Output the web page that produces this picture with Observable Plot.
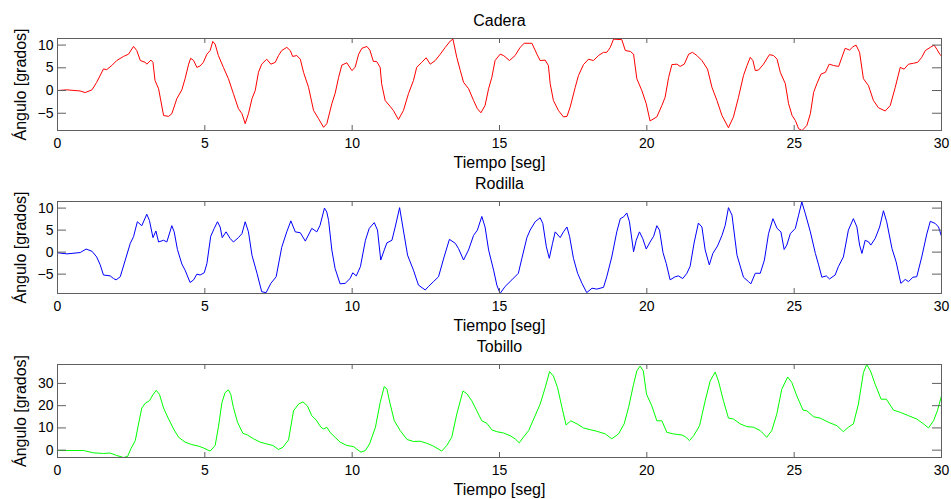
<!DOCTYPE html>
<html>
<head>
<meta charset="utf-8">
<script src="https://cdn.jsdelivr.net/npm/d3@7"></script>
<script src="https://cdn.jsdelivr.net/npm/@observablehq/plot@0.6"></script>
<style>
  body { margin: 0; background: #fff; }
  #chart svg { display: block; }
</style>
</head>
<body>
<div id="chart"></div>
<script>
// ---- Data ----
const xTicks = [0, 5, 10, 15, 20, 25, 30];
const yTicksAngle = [-5, 0, 5, 10];
const yTicksAnkle = [0, 10, 20, 30];
const titles = ["Cadera", "Rodilla", "Tobillo"];
const xLabel = "Tiempo [seg]";
const yLabel = "Ángulo [grados]";

const caderaT = [0,0.32,0.77,0.94,1.17,1.33,1.56,1.67,1.84,2.01,2.24,2.41,2.58,2.69,2.81,2.98,3.03,3.17,3.24,3.31,3.43,3.60,3.77,3.88,4.05,4.22,4.33,4.45,4.52,4.62,4.73,4.84,4.95,5.07,5.18,5.27,5.35,5.46,5.63,5.80,5.97,6.14,6.26,6.37,6.48,6.60,6.71,6.82,6.93,7.10,7.24,7.39,7.50,7.61,7.78,7.90,7.98,8.12,8.24,8.35,8.52,8.69,8.86,9.03,9.14,9.31,9.42,9.54,9.65,9.82,9.99,10.10,10.22,10.33,10.50,10.60,10.72,10.83,10.95,11.00,11.12,11.29,11.40,11.57,11.74,11.91,12.08,12.19,12.36,12.51,12.65,12.82,12.99,13.16,13.33,13.42,13.55,13.67,13.78,13.95,14.12,14.25,14.37,14.51,14.63,14.74,14.85,15.02,15.14,15.34,15.53,15.70,15.84,16.10,16.27,16.38,16.55,16.66,16.72,16.83,17.00,17.17,17.29,17.40,17.57,17.68,17.85,18.02,18.19,18.36,18.53,18.64,18.76,18.87,19.15,19.27,19.44,19.55,19.66,19.83,19.98,20.11,20.34,20.51,20.62,20.74,20.85,21.02,21.13,21.27,21.42,21.55,21.70,21.87,22.06,22.21,22.38,22.55,22.77,22.94,23.11,23.28,23.40,23.51,23.60,23.68,23.79,23.96,24.16,24.30,24.42,24.53,24.70,24.81,24.93,25.04,25.15,25.27,25.43,25.55,25.66,25.77,25.91,26.06,26.19,26.34,26.51,26.62,26.73,26.88,26.99,27.10,27.22,27.35,27.52,27.69,27.86,28.09,28.26,28.43,28.60,28.73,28.88,29.05,29.19,29.33,29.45,29.62,29.75,29.84,29.95,30];
const caderaV = [0,0.15,-0.1,-0.45,0.15,1.8,4.75,4.6,5.5,6.6,7.5,8.0,9.7,8.8,6.6,6.2,5.8,6.7,6.2,2.2,0.4,-5.5,-5.7,-5.1,-1.8,0.15,2.6,5.8,7.1,6.6,5.1,5.4,6.2,8.0,8.8,10.8,10.2,7.7,5.1,2.6,-0.7,-4.0,-5.1,-7.3,-5.1,-1.8,0,4.0,5.8,6.9,5.8,6.2,7.7,8.8,9.5,8.8,7.5,7.7,6.9,4.0,0.7,-4.4,-6.2,-8.1,-7.3,-2.9,-0.7,2.9,5.6,6.1,4.4,5.1,8.0,9.3,9.7,8.9,6.4,6.4,5.1,1.5,-2.2,-3.5,-4.4,-6.4,-4.4,-0.7,2.2,5.1,6.2,7.2,5.8,6.6,8.0,9.5,10.9,11.3,7.3,4.4,1.8,0.4,-2.2,-4.0,-4.9,-3.3,0.4,2.9,6.6,8.0,7.7,6.6,7.7,9.5,10.4,10.4,8.0,6.6,6.7,5.5,1.5,-2.2,-4.4,-5.8,-5.7,-3.6,0.7,3.3,5.7,6.9,6.6,7.7,8.4,8.4,9.5,11.3,11.2,8.8,8.6,8.0,2.6,0,-2.9,-6.7,-5.8,-3.3,-1.5,2.9,5.7,5.8,5.3,5.8,8.0,8.4,7.7,6.6,4.7,0.7,-2.2,-5.5,-8.2,-5.8,-1.5,3.3,5.5,7.3,6.6,4.4,4.5,5.8,7.9,7.7,6.9,4.0,1.5,-2.9,-5.5,-6.6,-8.4,-8.8,-7.7,-5.1,-0.4,1.5,3.6,4.0,5.8,5.5,5.3,7.3,9.3,8.9,9.6,10.0,8.4,2.6,1.1,-2.2,-3.8,-4.5,-3.3,0.7,5.1,4.7,5.8,6.0,6.2,7.3,8.8,9.5,10.0,9.1,7.9,7.6];

const rodillaT = [0,0.32,0.77,0.97,1.17,1.33,1.45,1.56,1.79,1.90,1.99,2.13,2.30,2.47,2.58,2.71,2.86,3.03,3.12,3.24,3.34,3.43,3.60,3.71,3.88,3.96,4.07,4.22,4.33,4.50,4.62,4.73,4.84,4.98,5.07,5.20,5.32,5.43,5.52,5.59,5.72,5.86,5.97,6.14,6.26,6.37,6.48,6.60,6.77,6.93,7.08,7.24,7.42,7.61,7.78,7.92,8.07,8.24,8.41,8.63,8.80,8.91,9.06,9.14,9.20,9.31,9.42,9.59,9.76,9.93,10.02,10.14,10.28,10.45,10.58,10.75,10.86,10.97,11.09,11.18,11.35,11.46,11.61,11.72,11.88,12.08,12.25,12.48,12.59,12.76,12.93,13.12,13.30,13.50,13.61,13.78,13.95,14.12,14.25,14.40,14.51,14.63,14.80,14.91,15.02,15.19,15.42,15.64,15.76,15.93,16.04,16.21,16.38,16.47,16.59,16.69,16.80,16.89,17.06,17.17,17.29,17.38,17.51,17.65,17.80,17.96,18.14,18.30,18.53,18.64,18.81,18.98,19.10,19.21,19.32,19.41,19.55,19.64,19.75,19.86,19.98,20.11,20.23,20.34,20.43,20.55,20.66,20.79,20.96,21.07,21.22,21.36,21.47,21.61,21.75,21.87,21.98,22.12,22.24,22.40,22.55,22.66,22.77,22.89,23.06,23.28,23.45,23.53,23.68,23.85,23.99,24.13,24.28,24.42,24.55,24.66,24.75,24.87,25.04,25.15,25.26,25.38,25.55,25.72,25.83,25.94,26.09,26.20,26.39,26.50,26.67,26.84,27.01,27.13,27.22,27.30,27.41,27.53,27.60,27.75,27.90,28.03,28.14,28.32,28.46,28.62,28.77,28.88,29.03,29.16,29.33,29.50,29.62,29.79,29.90,30];
const rodillaV = [-0.15,-0.4,-0.1,0.7,0.2,-1.1,-2.9,-5.2,-5.4,-6.0,-6.3,-5.6,-1.8,2.0,3.5,6.9,6.0,8.6,7.2,3.3,4.8,2.3,2.7,2.3,6.0,4.6,0.6,-2.7,-4.1,-6.9,-6.3,-5.0,-5.2,-4.7,-2.6,3.6,5.4,6.9,5.7,3.3,4.6,3.1,2.3,3.3,4.2,6.9,4.6,-0.7,-4.8,-9.0,-9.2,-7.1,-5.6,1.1,4.6,7.1,4.6,4.4,2.5,5.4,4.6,6.1,10.0,9.1,7.2,0.5,-3.7,-7.2,-7.1,-6.0,-4.7,-5.4,-3.3,2.7,5.4,6.7,5.0,-1.8,0.5,2.1,2.7,5.7,10.1,5.7,-0.7,-4.1,-7.5,-8.6,-7.8,-6.7,-5.6,-1.1,2.9,2.0,0.8,-1.8,0.5,3.8,5.0,8.1,5.7,0.5,-4.1,-7.5,-9.4,-7.8,-6.3,-4.8,-1.4,3.3,5.0,6.9,7.8,6.5,1.2,-1.4,2.0,4.6,3.3,4.6,5.7,3.5,-1.4,-4.8,-7.1,-9.2,-8.2,-8.4,-8.0,-5.6,-1.1,4.6,7.6,8.0,8.9,6.9,0.1,2.7,4.6,3.1,0.7,2.3,3.6,6.0,5.0,-0.15,-2.6,-6.3,-5.6,-5.4,-6.0,-4.8,-3.2,2.3,6.6,5.7,0.5,-2.9,-0.3,1.4,3.8,6.1,10.1,8.4,-0.7,-5.7,-6.7,-7.2,-4.8,-4.8,-1.8,4.2,7.6,5.4,4.6,0.6,1.6,4.2,5.4,8.4,11.4,8.7,4.6,-0.3,-2.9,-5.7,-5.4,-6.1,-5.2,-3.3,-1.1,5.0,7.6,5.7,1.6,-0.3,2.7,2.3,1.6,3.1,5.7,9.4,6.9,0.8,-2.2,-7.1,-6.2,-6.7,-5.7,-5.6,-1.1,4.1,7.0,6.5,5.7,3.6];

const tobilloT = [0,0.88,1.22,1.56,1.79,2.01,2.24,2.38,2.49,2.64,2.75,2.86,2.98,3.12,3.24,3.35,3.46,3.60,3.77,3.94,4.11,4.33,4.56,4.79,4.95,5.18,5.35,5.46,5.58,5.69,5.80,5.88,5.97,6.11,6.29,6.45,6.65,6.88,7.10,7.31,7.50,7.65,7.84,8.01,8.18,8.33,8.48,8.63,8.78,8.94,9.03,9.14,9.25,9.42,9.59,9.82,10.05,10.14,10.30,10.45,10.59,10.79,10.95,11.09,11.18,11.29,11.43,11.63,11.86,12.08,12.31,12.53,12.76,13.04,13.21,13.38,13.55,13.76,13.89,14.06,14.23,14.40,14.57,14.74,14.91,15.14,15.36,15.53,15.67,15.81,15.99,16.16,16.38,16.55,16.70,16.83,16.97,17.12,17.26,17.42,17.63,17.85,18.08,18.30,18.59,18.81,19.04,19.23,19.38,19.55,19.66,19.77,19.88,19.99,20.17,20.34,20.51,20.68,20.90,21.19,21.30,21.45,21.59,21.79,21.98,22.15,22.32,22.43,22.60,22.77,22.94,23.17,23.39,23.62,23.85,24.07,24.24,24.41,24.58,24.78,24.92,25.09,25.30,25.43,25.66,25.88,26.17,26.45,26.67,26.84,27.01,27.18,27.35,27.46,27.59,27.75,27.95,28.13,28.37,28.60,28.88,29.16,29.39,29.56,29.73,29.86,30];
const tobilloV = [-0.15,-0.15,-1.2,-1.5,-1.3,-2.4,-3.3,-2.8,0.6,4.3,11.8,18.9,21.1,22.2,24.9,26.9,25.1,18.9,14.0,9.5,5.8,3.6,2.5,1.8,1.0,-0.4,2.1,10.3,21.4,25.9,27.1,25.1,19.2,12.5,7.6,6.8,5.1,3.6,2.8,2.1,0.3,1.3,4.6,17.7,20.7,21.7,19.9,15.5,13.5,10.3,9.5,10.3,8.0,5.8,3.6,2.1,1.6,0.6,-0.9,-0.15,2.8,10.3,21.4,28.6,27.4,20.7,13.2,8.8,4.8,3.9,4.0,3.1,1.8,-0.4,2.1,5.8,16.2,26.6,25.4,22.2,17.7,13.2,12.1,9.1,8.3,7.7,6.5,5.1,3.3,5.8,8.8,14.0,20.7,28.1,35.3,33.3,28.1,19.2,11.3,13.2,11.8,10.0,9.2,8.5,7.3,5.1,7.3,11.8,19.2,29.6,35.6,37.8,35.6,25.1,19.9,13.2,13.2,8.0,7.3,6.8,6.1,4.3,6.5,11.0,22.2,31.1,35.1,31.1,22.2,14.4,14.0,11.8,10.6,10.3,8.8,5.8,8.8,16.2,27.4,32.9,30.4,24.4,18.0,17.7,15.0,14.4,12.5,11.0,8.3,10.3,11.8,20.7,34.8,38.5,35.6,29.6,22.9,22.9,18.0,17.0,15.5,14.0,11.8,10.0,13.2,17.7,24.4];

// ---- Drawing ----
const W = 951, ML = 57, MR = 10;
const axisColor = "#5f5f5f";
const font = "'Liberation Sans', Arial, Helvetica, sans-serif";

function panel({t, v, color, title, yDomain, yTicks, height, marginTop, marginBottom}) {
  const data = t.map((d, i) => ({t: d, v: v[i]}));
  const frameH = height - marginTop - marginBottom;
  const frameW = W - ML - MR;
  return Plot.plot({
    width: W, height,
    marginLeft: ML, marginRight: MR, marginTop, marginBottom,
    style: {fontFamily: font, fontSize: "14px", color: "#000", background: "#fff", overflow: "visible"},
    x: {domain: [0, 30]},
    y: {domain: yDomain},
    marks: [
      Plot.line(data, {x: "t", y: "v", stroke: color, strokeWidth: 1}),
      Plot.frame({stroke: axisColor, strokeWidth: 1}),
      Plot.tickX(xTicks, {x: d => d, stroke: axisColor, insetTop: frameH - 5}),
      Plot.tickX(xTicks, {x: d => d, stroke: axisColor, insetBottom: frameH - 5}),
      Plot.tickY(yTicks, {y: d => d, stroke: axisColor, insetRight: frameW - 9}),
      Plot.tickY(yTicks, {y: d => d, stroke: axisColor, insetLeft: frameW - 9}),
      Plot.axisX(xTicks, {tickSize: 0, tickPadding: 8, label: null, fontSize: 14, fill: "#000"}),
      Plot.axisY(yTicks, {tickSize: 0, tickPadding: 4, label: null, fontSize: 14, fill: "#000"}),
      Plot.text([title], {text: d => d, frameAnchor: "top", dy: -18, lineAnchor: "middle", textAnchor: "middle", fontSize: 16, fill: "#000"}),
      Plot.text([xLabel], {text: d => d, frameAnchor: "bottom", dy: 32, lineAnchor: "middle", textAnchor: "middle", fontSize: 16, fill: "#000"}),
      Plot.text([yLabel], {text: d => d, frameAnchor: "left", dx: -37, rotate: -90, lineAnchor: "middle", textAnchor: "middle", fontSize: 16, fill: "#000"})
    ]
  });
}

const root = document.getElementById("chart");
root.append(panel({t: caderaT, v: caderaV, color: "#ff0000", title: titles[0],
  yDomain: [-8.8, 11.45], yTicks: yTicksAngle, height: 166, marginTop: 38, marginBottom: 36}));
root.append(panel({t: rodillaT, v: rodillaV, color: "#0000ff", title: titles[1],
  yDomain: [-9.4, 11.5], yTicks: yTicksAngle, height: 167, marginTop: 35, marginBottom: 40}));
root.append(panel({t: tobilloT, v: tobilloV, color: "#00ff00", title: titles[2],
  yDomain: [-3.3, 38.5], yTicks: yTicksAnkle, height: 166, marginTop: 31, marginBottom: 42}));
</script>
</body>
</html>
